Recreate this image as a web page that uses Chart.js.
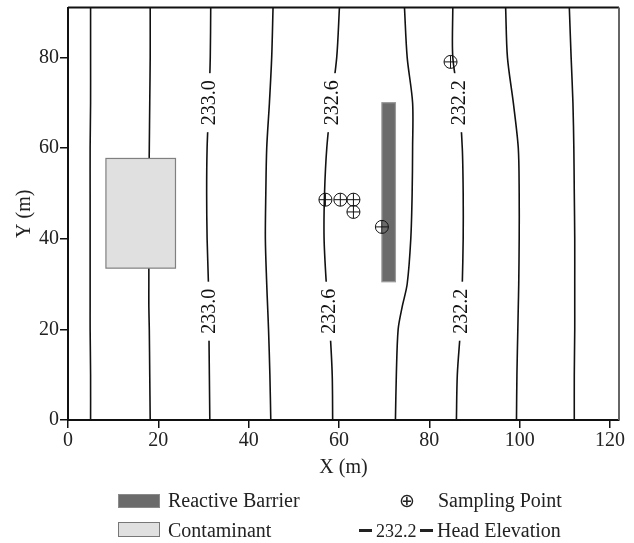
<!DOCTYPE html>
<html>
<head>
<meta charset="utf-8">
<script src="https://cdn.jsdelivr.net/npm/chart.js@4.4.1/dist/chart.umd.min.js"></script>
<style>
html, body { margin: 0; padding: 0; background: #fff; }
#wrap { position: relative; width: 634px; height: 543px; }
#myChart { position: absolute; left: 0; top: 0; }
.lg { position: absolute; font-family: 'Liberation Serif', 'Times New Roman', serif; font-size: 20px; color: #222; line-height: 22px; white-space: nowrap; }
.sw { position: absolute; box-sizing: border-box; }
.dash { position: absolute; height: 3px; width: 13px; background: #222; }
</style>
</head>
<body>
<div id="wrap">
    <canvas id="myChart" width="634" height="543"></canvas>
    <div class="sw" style="left:118px;top:494px;width:42px;height:14px;background:#6b6b6b;border:1px solid #8a8a8a;"></div>
    <div class="lg" style="left:168px;top:489px;">Reactive Barrier</div>
    <div class="sw" style="left:118px;top:522px;width:42px;height:15px;background:#e0e0e0;border:1px solid #777;"></div>
    <div class="lg" style="left:168px;top:519px;">Contaminant</div>
    <div class="lg" style="left:399px;top:489px;font-family:'DejaVu Sans',sans-serif;font-size:19px;">&#8853;</div>
    <div class="lg" style="left:438px;top:489px;">Sampling Point</div>
    <div class="dash" style="left:359px;top:529px;"></div>
    <div class="lg" style="left:376px;top:520px;font-size:18px;">232.2</div>
    <div class="dash" style="left:420px;top:529px;"></div>
    <div class="lg" style="left:437px;top:519px;">Head Elevation</div>
</div>
<script>
// contour lines: x position of each line at the shared y levels
var contourY = [0, 10, 20, 25, 30, 40, 50, 60, 70, 80, 91];
var contourX = [
    [5.0, 5.0, 4.9, 4.9, 4.9, 4.9, 4.9, 4.9, 5.0, 5.0, 5.0],
    [18.2, 18.1, 18.0, 17.9, 17.9, 17.9, 17.9, 18.0, 18.1, 18.2, 18.2],
    [31.4, 31.3, 31.2, 31.15, 31.1, 30.8, 30.7, 30.8, 31.2, 31.5, 31.6],
    [44.9, 44.7, 44.4, 44.2, 44.0, 43.7, 43.8, 44.0, 44.6, 45.1, 45.4],
    [58.6, 58.5, 58.0, 57.6, 57.2, 56.7, 56.8, 57.3, 58.3, 59.5, 60.1],
    [72.5, 72.7, 73.1, 74.0, 75.1, 75.9, 76.2, 76.3, 76.3, 75.1, 74.5],
    [86.0, 86.2, 86.9, 87.1, 87.3, 87.5, 87.5, 87.3, 86.6, 85.2, 85.2],
    [99.3, 99.4, 99.6, 99.7, 99.8, 99.9, 99.9, 99.7, 98.6, 97.3, 96.9],
    [112.1, 112.1, 112.2, 112.2, 112.2, 112.2, 112.1, 112.0, 111.8, 111.4, 111.0]
];
var contourLevels = ['', '', '233.0', '', '232.6', '', '232.2', '', ''];
var contourLabelY = [70, 24];

var sampleX = [57.0, 60.3, 63.2, 63.2, 69.5, 84.7];
var sampleY = [48.6, 48.6, 48.6, 45.9, 42.6, 79.0];

var barrierX = [69.5, 72.5];
var barrierY = [30.5, 70];
var contaminantX = [8.4, 23.8];
var contaminantY = [33.5, 57.7];

var xTickValues = [0, 20, 40, 60, 80, 100, 120];
var yTickValues = [0, 20, 40, 60, 80];

var serif = "'Liberation Serif', 'Times New Roman', serif";

function toPoints(xs, ys) {
    return xs.map(function (x, i) { return {x: x, y: ys[i]}; });
}

var samplePoints = toPoints(sampleX, sampleY);

var datasets = [
    {data: samplePoints, pointStyle: 'circle', pointRadius: 6.5, borderColor: '#111', borderWidth: 1, backgroundColor: 'rgba(0,0,0,0)', showLine: false},
    {data: samplePoints, pointStyle: 'cross', pointRadius: 6.5, borderColor: '#111', borderWidth: 1, showLine: false}
];
contourX.forEach(function (xs) {
    datasets.push({
        data: toPoints(xs, contourY),
        showLine: true,
        borderColor: '#111',
        borderWidth: 1.6,
        pointRadius: 0,
        tension: 0.3,
        fill: false
    });
});

var areaPlugin = {
    id: 'areas',
    beforeDatasetDraw: function (chart, args) {
        if (args.index !== 1) return;
        var ctx = chart.ctx, xs = chart.scales.x, ys = chart.scales.y;
        function rect(rx, ry, fill, stroke) {
            var x0 = xs.getPixelForValue(rx[0]), x1 = xs.getPixelForValue(rx[1]);
            var y0 = ys.getPixelForValue(ry[1]), y1 = ys.getPixelForValue(ry[0]);
            ctx.fillStyle = fill;
            ctx.fillRect(x0, y0, x1 - x0, y1 - y0);
            ctx.strokeStyle = stroke;
            ctx.lineWidth = 1.2;
            ctx.strokeRect(x0, y0, x1 - x0, y1 - y0);
        }
        ctx.save();
        rect(contaminantX, contaminantY, '#e0e0e0', '#808080');
        rect(barrierX, barrierY, '#6b6b6b', '#9a9a9a');
        ctx.restore();
    }
};

var labelPlugin = {
    id: 'contourLabels',
    afterDatasetsDraw: function (chart) {
        var ctx = chart.ctx, xs = chart.scales.x, ys = chart.scales.y;
        ctx.save();
        ctx.font = '20px ' + serif;
        ctx.textAlign = 'center';
        ctx.textBaseline = 'middle';
        contourLevels.forEach(function (text, li) {
            if (!text) return;
            contourLabelY.forEach(function (ly) {
                var line = contourX[li], lx = line[0];
                for (var i = 0; i < contourY.length - 1; i++) {
                    if (ly >= contourY[i] && ly <= contourY[i + 1]) {
                        var t = (ly - contourY[i]) / (contourY[i + 1] - contourY[i]);
                        lx = line[i] + t * (line[i + 1] - line[i]);
                    }
                }
                var px = xs.getPixelForValue(lx), py = ys.getPixelForValue(ly);
                var w = ctx.measureText(text).width;
                ctx.save();
                ctx.translate(px, py);
                ctx.rotate(-Math.PI / 2);
                ctx.fillStyle = '#fff';
                ctx.fillRect(-w / 2 - 7, -9, w + 14, 18);
                ctx.fillStyle = '#111';
                ctx.fillText(text, 0, 1);
                ctx.restore();
            });
        });
        ctx.restore();
    }
};

var framePlugin = {
    id: 'frame',
    afterDraw: function (chart) {
        var ctx = chart.ctx, a = chart.chartArea;
        ctx.save();
        ctx.strokeStyle = '#111';
        ctx.lineWidth = 2;
        ctx.beginPath();
        ctx.moveTo(a.left, a.top);
        ctx.lineTo(a.right, a.top);
        ctx.stroke();
        ctx.strokeStyle = '#666';
        ctx.beginPath();
        ctx.moveTo(a.right, a.top);
        ctx.lineTo(a.right, a.bottom);
        ctx.stroke();
        ctx.restore();
    }
};

var chart = new Chart(document.getElementById('myChart').getContext('2d'), {
    type: 'scatter',
    data: {datasets: datasets},
    plugins: [areaPlugin, labelPlugin, framePlugin],
    options: {
        responsive: false,
        animation: false,
        events: [],
        layout: {padding: {left: 0, right: 15, top: 7, bottom: 0}},
        plugins: {legend: {display: false}, tooltip: {enabled: false}},
        scales: {
            x: {
                type: 'linear',
                min: 0,
                max: 122,
                afterBuildTicks: function (scale) {
                    scale.ticks = xTickValues.map(function (v) { return {value: v}; });
                },
                afterFit: function (scale) {
                    scale.height = 123;
                    scale.paddingLeft = 0;
                    scale.paddingRight = 0;
                },
                grid: {drawOnChartArea: false, drawTicks: true, tickLength: 8, color: '#111', lineWidth: 1.5},
                border: {color: '#111', width: 2},
                ticks: {color: '#222', padding: 1, maxRotation: 0, font: {family: serif, size: 20}},
                title: {display: true, text: 'X (m)', color: '#222', font: {family: serif, size: 20}, padding: {top: 0, bottom: 63}}
            },
            y: {
                type: 'linear',
                min: 0,
                max: 91,
                afterBuildTicks: function (scale) {
                    scale.ticks = yTickValues.map(function (v) { return {value: v}; });
                },
                afterFit: function (scale) {
                    scale.width = 68;
                    scale.paddingTop = 0;
                    scale.paddingBottom = 0;
                },
                grid: {drawOnChartArea: false, drawTicks: true, tickLength: 8, color: '#111', lineWidth: 1.5},
                border: {color: '#111', width: 2},
                ticks: {color: '#222', padding: 1, font: {family: serif, size: 20}},
                title: {display: true, text: 'Y (m)', color: '#222', font: {family: serif, size: 20}, padding: {top: 13, bottom: 0}}
            }
        }
    }
});
</script>
</body>
</html>
